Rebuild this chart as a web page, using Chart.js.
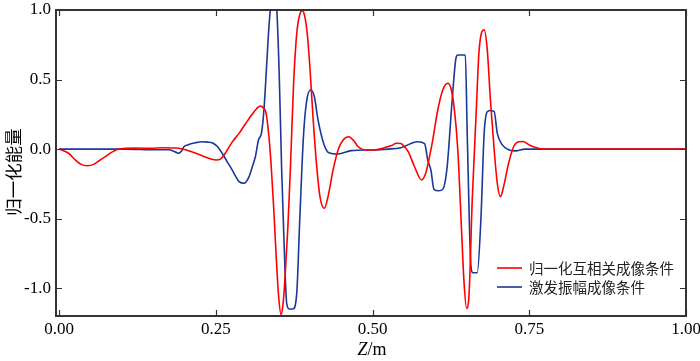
<!DOCTYPE html>
<html>
<head>
<meta charset="utf-8">
<script src="https://cdn.jsdelivr.net/npm/chart.js@4/dist/chart.umd.min.js"></script>
<style>
	html, body { margin: 0; padding: 0; background: #fff; }
	#chart-energy { display: block; }
</style>
</head>
<body>
<canvas id="chart-energy" width="700" height="361"></canvas>
<script>
// Series data (depth Z in m, normalised energy)
const SERIES_LABELS = ["归一化互相关成像条件", "激发振幅成像条件"];

const redZ = [0, 0.015, 0.025, 0.035, 0.045, 0.055, 0.065, 0.075, 0.085, 0.095, 0.105, 0.125, 0.145, 0.165, 0.185, 0.195, 0.205, 0.218, 0.235, 0.25, 0.258, 0.265, 0.276, 0.287, 0.297, 0.307, 0.315, 0.321, 0.326, 0.33, 0.334, 0.338, 0.342, 0.346, 0.35, 0.354, 0.357, 0.36, 0.365, 0.369, 0.374, 0.379, 0.384, 0.388, 0.392, 0.396, 0.4, 0.405, 0.411, 0.416, 0.423, 0.429, 0.437, 0.445, 0.453, 0.462, 0.47, 0.477, 0.49, 0.503, 0.519, 0.53, 0.538, 0.545, 0.551, 0.557, 0.567, 0.578, 0.585, 0.591, 0.596, 0.604, 0.612, 0.62, 0.625, 0.63, 0.636, 0.641, 0.646, 0.65, 0.654, 0.659, 0.665, 0.67, 0.678, 0.683, 0.688, 0.694, 0.699, 0.704, 0.709, 0.717, 0.725, 0.733, 0.74, 0.75, 0.76, 0.773, 0.8, 0.9, 1.0];
const redV = [0, -0.03, -0.075, -0.11, -0.12, -0.11, -0.08, -0.05, -0.02, 0.0, 0.005, 0.008, 0.005, 0.01, 0.008, 0.003, -0.01, -0.03, -0.06, -0.078, -0.07, -0.03, 0.05, 0.113, 0.18, 0.245, 0.29, 0.31, 0.295, 0.26, 0.12, -0.1, -0.4, -0.75, -1.05, -1.19, -1.12, -0.95, -0.55, -0.13, 0.47, 0.83, 0.97, 0.995, 0.95, 0.82, 0.59, 0.23, -0.13, -0.34, -0.426, -0.34, -0.15, -0.006, 0.065, 0.089, 0.06, 0.017, -0.006, -0.006, 0.01, 0.025, 0.042, 0.04, 0.017, -0.02, -0.127, -0.222, -0.17, -0.05, 0.065, 0.281, 0.425, 0.473, 0.437, 0.305, -0.006, -0.486, -0.965, -1.145, -1.037, -0.366, 0.233, 0.713, 0.857, 0.713, 0.353, -0.006, -0.246, -0.342, -0.27, -0.102, 0.017, 0.053, 0.055, 0.03, 0.012, 0.0, 0.0, 0.0, 0.0];

const blueZ = [0, 0.055, 0.105, 0.155, 0.175, 0.185, 0.191, 0.195, 0.199, 0.205, 0.217, 0.228, 0.237, 0.244, 0.252, 0.26, 0.268, 0.276, 0.282, 0.287, 0.295, 0.303, 0.308, 0.313, 0.318, 0.323, 0.327, 0.331, 0.335, 0.339, 0.343, 0.347, 0.351, 0.355, 0.359, 0.363, 0.367, 0.373, 0.379, 0.384, 0.39, 0.395, 0.401, 0.407, 0.413, 0.422, 0.43, 0.445, 0.466, 0.498, 0.525, 0.545, 0.572, 0.583, 0.588, 0.593, 0.598, 0.605, 0.61, 0.614, 0.619, 0.627, 0.633, 0.636, 0.648, 0.651, 0.657, 0.66, 0.667, 0.673, 0.678, 0.683, 0.688, 0.694, 0.699, 0.707, 0.718, 0.728, 0.743, 0.8, 0.9, 1.0];
const blueV = [0, 0, 0.0, -0.005, -0.005, -0.02, -0.03, -0.015, 0.017, 0.03, 0.045, 0.053, 0.05, 0.045, 0.02, -0.03, -0.09, -0.15, -0.2, -0.234, -0.246, -0.198, -0.13, -0.055, 0.065, 0.12, 0.3, 0.6, 0.9, 1.08, 1.12, 1.02, 0.55, -0.15, -0.7, -1.11, -1.15, -1.15, -1.04, -0.49, 0.11, 0.35, 0.425, 0.38, 0.21, 0.04, -0.026, -0.035, -0.011, -0.006, 0.0, 0.01, 0.053, 0.04, -0.078, -0.15, -0.29, -0.30, -0.295, -0.27, -0.127, 0.353, 0.653, 0.677, 0.677, 0.11, -0.845, -0.889, -0.889, -0.486, 0.113, 0.269, 0.277, 0.27, 0.113, 0.03, -0.006, -0.013, 0.0, 0.0, 0.0, 0.0];

const xTicks = [0, 0.25, 0.5, 0.75, 1.0];
const yTicks = [-1.0, -0.5, 0.0, 0.5, 1.0];

const RED = "#ff0000";
const BLUE = "#1b3797";
const FRAME = "#333333";
const CJK_FONT = "'Noto Sans CJK SC', sans-serif";

const toPoints = (zs, vs) => zs.map((z, i) => ({ x: z, y: vs[i] }));

//------------------------------------------------------------
// Frame, inward ticks, titles and legend
//------------------------------------------------------------
const framePlugin = {
	id: "frame",
	afterDraw(chart) {
		const { ctx, chartArea: a, scales } = chart;
		ctx.save();
		ctx.strokeStyle = FRAME;
		ctx.lineWidth = 2;
		ctx.strokeRect(a.left, a.top, a.right - a.left, a.bottom - a.top);

		ctx.lineWidth = 1.2;
		ctx.beginPath();
		xTicks.forEach((v) => {
			const px = Math.round(scales.x.getPixelForValue(v)) + 0.5;
			ctx.moveTo(px, a.bottom);
			ctx.lineTo(px, a.bottom - 6);
			ctx.moveTo(px, a.top);
			ctx.lineTo(px, a.top + 6);
		});
		yTicks.forEach((v) => {
			const py = Math.round(scales.y.getPixelForValue(v)) + 0.5;
			ctx.moveTo(a.left, py);
			ctx.lineTo(a.left + 6, py);
			ctx.moveTo(a.right, py);
			ctx.lineTo(a.right - 6, py);
		});
		ctx.stroke();

		// x title, italic Z
		ctx.fillStyle = "#000";
		ctx.textBaseline = "alphabetic";
		const cx = (a.left + a.right) / 2 + 1;
		const by = 355;
		ctx.font = "italic 18px 'Liberation Serif', serif";
		const wz = ctx.measureText("Z").width;
		ctx.font = "18px 'Liberation Serif', serif";
		const wr = ctx.measureText("/m").width;
		const x0 = cx - (wz + wr) / 2;
		ctx.font = "italic 18px 'Liberation Serif', serif";
		ctx.textAlign = "left";
		ctx.fillText("Z", x0, by);
		ctx.font = "18px 'Liberation Serif', serif";
		ctx.fillText("/m", x0 + wz, by);

		// y title
		ctx.save();
		ctx.translate(13, 172);
		ctx.rotate(-Math.PI / 2);
		ctx.font = "17.5px " + CJK_FONT;
		ctx.textAlign = "center";
		ctx.textBaseline = "middle";
		ctx.fillText("归一化能量", 0, 0);
		ctx.restore();

		// legend
		ctx.font = "14.5px " + CJK_FONT;
		ctx.textAlign = "left";
		ctx.textBaseline = "middle";
		chart.data.datasets.forEach((ds, i) => {
			const y = a.bottom - 48 + i * 19;
			ctx.strokeStyle = ds.borderColor;
			ctx.lineWidth = 1.6;
			ctx.beginPath();
			ctx.moveTo(a.right - 189, y);
			ctx.lineTo(a.right - 164, y);
			ctx.stroke();
			ctx.fillStyle = "#222";
			ctx.fillText(ds.label, a.right - 157, y);
		});
		ctx.restore();
	},
};

// drop the half-label overflow so the frame sits where the reference has it
const noOverflow = (scale) => {
	scale.paddingTop = 0;
	scale.paddingBottom = 0;
	scale.paddingLeft = 0;
	scale.paddingRight = 0;
};

const CHART_CONFIG = {
	type: "line",
	data: {
		datasets: [
			{
				label: SERIES_LABELS[0],
				data: toPoints(redZ, redV),
				borderColor: RED,
				borderWidth: 1.6,
				pointRadius: 0,
				cubicInterpolationMode: "monotone",
			},
			{
				label: SERIES_LABELS[1],
				data: toPoints(blueZ, blueV),
				borderColor: BLUE,
				borderWidth: 1.6,
				pointRadius: 0,
				cubicInterpolationMode: "monotone",
			},
		],
	},
	options: {
		responsive: false,
		animation: false,
		layout: {
			padding: { top: 10, right: 14, left: 0, bottom: 0 },
		},
		plugins: {
			legend: { display: false },
			tooltip: { enabled: false },
		},
		scales: {
			x: {
				type: "linear",
				min: -0.005,
				max: 1.0,
				grid: { display: false, drawTicks: false },
				border: { display: false },
				afterBuildTicks: (scale) => {
					scale.ticks = xTicks.map((v) => ({ value: v }));
				},
				afterFit: (scale) => {
					scale.height = 45;
					noOverflow(scale);
				},
				ticks: {
					color: "#000",
					padding: 3,
					maxRotation: 0,
					font: { family: "'Liberation Serif', serif", size: 17 },
					callback: (v) => Number(v).toFixed(2),
				},
			},
			y: {
				type: "linear",
				min: -1.2,
				max: 1.0,
				grid: { display: false, drawTicks: false },
				border: { display: false },
				afterBuildTicks: (scale) => {
					scale.ticks = yTicks.map((v) => ({ value: v }));
				},
				afterFit: (scale) => {
					scale.width = 56;
					noOverflow(scale);
				},
				ticks: {
					color: "#000",
					padding: 5,
					font: { family: "'Liberation Serif', serif", size: 17 },
					callback: (v) => Number(v).toFixed(1),
				},
			},
		},
	},
	plugins: [framePlugin],
};

new Chart(document.getElementById("chart-energy"), CHART_CONFIG);
</script>
</body>
</html>
